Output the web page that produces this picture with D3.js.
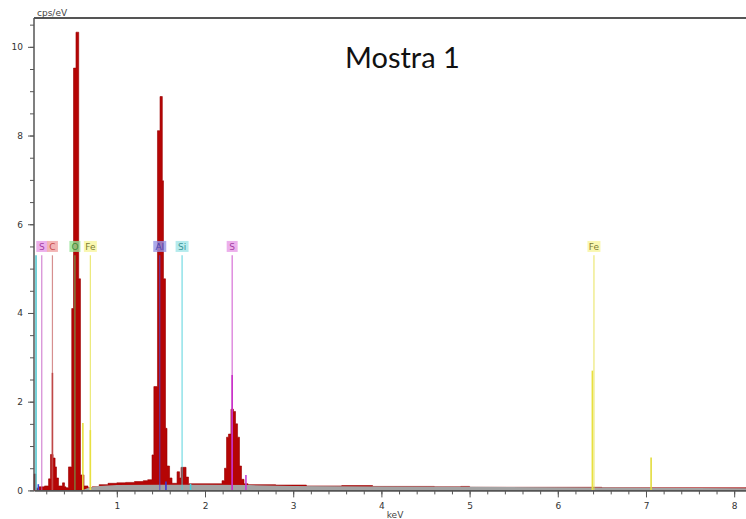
<!DOCTYPE html>
<html>
<head>
<meta charset="utf-8" />
<title>Mostra 1</title>
<script src="https://d3js.org/d3.v7.min.js"></script>
<style>
  body { margin: 0; background: #fff; }
  svg { display: block; }
  .tick text { font-family: "DejaVu Sans", sans-serif; font-size: 9px; fill: #333; }
</style>
</head>
<body>
<div id="chart"></div>
<script>
// spectrum (step start energy in keV, cps/eV)
var specE = [0.061, 0.083, 0.11, 0.18, 0.226, 0.248, 0.277, 0.300, 0.316, 0.339, 0.384, 0.407, 0.424,
  0.452, 0.489, 0.509, 0.537, 0.568, 0.588, 0.628, 0.673,
  0.72, 0.8, 0.9, 1.0, 1.1, 1.2, 1.3, 1.35,
  1.399, 1.420, 1.461, 1.490, 1.516, 1.529, 1.552, 1.569, 1.598, 1.626,
  1.683, 1.711, 1.728, 1.785, 1.813,
  2.193, 2.221, 2.244, 2.266, 2.294, 2.323, 2.346, 2.369, 2.391, 2.414, 2.442, 2.488,
  2.8, 3.15, 3.55, 3.9, 4.6, 4.9, 5.0, 6.5, 8.134];
var specCps = [0.37, 0.05, 0.08, 0.1, 0.26, 0.81, 0.73, 0.53, 0.28, 0.1, 0.17, 0.08, 0.06,
  0.53, 4.1, 9.52, 10.33, 4.77, 0.35, 0.1, 0.06,
  0.08, 0.13, 0.16, 0.17, 0.18, 0.2, 0.22, 0.24,
  0.8, 2.34, 8.11, 8.88, 6.98, 4.77, 1.4, 0.55, 0.28, 0.16,
  0.42, 0.28, 0.52, 0.3, 0.15,
  0.22, 0.5, 1.2, 1.27, 1.83, 1.78, 1.5, 1.2, 0.55, 0.25, 0.15, 0.13,
  0.12, 0.1, 0.11, 0.09, 0.08, 0.09, 0.07, 0.06, 0.05];

// background (bremsstrahlung) fit
var bgE = [0.60, 0.68, 0.8, 1.0, 1.5, 2.0, 2.5, 3.0, 4.0, 5.0, 6.0, 7.0, 8.134];
var bgCps = [0, 0.06, 0.1, 0.12, 0.13, 0.13, 0.12, 0.1, 0.09, 0.08, 0.07, 0.06, 0.05];

// element markers with labels
var elNames = ["S", "C", "O", "Fe", "Al", "Si", "S", "Fe"];
var elE = [0.149, 0.27, 0.525, 0.70, 1.487, 1.74, 2.308, 6.41];
var elBg = ["#e79be6", "#f0a3a3", "#94e294", "#f7f59c", "#9595e6", "#a3e6e8", "#e79be6", "#f7f59c"];
var elText = ["#9b2f9b", "#c03c3c", "#2e8a2e", "#6b6a1e", "#3838b0", "#2a8a8c", "#9b2f9b", "#6b6a1e"];
var elLine = ["#c45fc4", "#c86a6a", "#5cc25c", "#e6e04a", "#4a4ad8", "#45cdd8", "#c840c8", "#e6e04a"];

// extra marker lines (energy, height, colour)
var lineE = [0.084, 0.11, 0.27, 0.615, 0.70, 1.557, 1.836, 2.308, 2.464, 6.392, 7.058];
var lineH = [5.3, 0.14, 2.65, 1.52, 1.36, 0.2, 0.15, 2.6, 0.35, 2.7, 0.74];
var lineC = ["#55c8d0", "#3a4ad8", "#c04848", "#e8e040", "#e8e040", "#3a3ad8", "#45d0dc", "#c830c8", "#c040d8", "#e8e040", "#e2dc3c"];

var yMajor = [0, 2, 4, 6, 8, 10];
var xMajor = [1, 2, 3, 4, 5, 6, 7, 8];

var W = 746, H = 519;
var margin = {top: 18, right: 0, bottom: 28.6, left: 34};

var x = d3.scaleLinear().domain([0.061, 8.134]).range([margin.left, W - margin.right]);
var y = d3.scaleLinear().domain([0, 10.65]).range([H - margin.bottom, margin.top]);

var svg = d3.select("#chart").append("svg")
  .attr("width", W)
  .attr("height", H);

// spectrum
var spec = specE.map(function(e, i) { return [e, specCps[i]]; });
svg.append("path")
  .datum(spec)
  .attr("fill", "#b50505")
  .attr("stroke", "#9a0000")
  .attr("stroke-width", 0.6)
  .attr("d", d3.area()
    .curve(d3.curveStepAfter)
    .x(function(d) { return x(d[0]); })
    .y0(y(0))
    .y1(function(d) { return y(d[1]); }));

// background fit
var bg = bgE.map(function(e, i) { return [e, bgCps[i]]; });
svg.append("path")
  .datum(bg)
  .attr("fill", "#a3a3a3")
  .attr("d", d3.area()
    .x(function(d) { return x(d[0]); })
    .y0(y(0))
    .y1(function(d) { return y(d[1]); }));

// marker lines for the labelled elements
svg.append("g").selectAll("line")
  .data(elNames.map(function(n, i) { return {e: elE[i], c: elLine[i]}; }))
  .enter().append("line")
  .attr("x1", function(d) { return x(d.e); })
  .attr("x2", function(d) { return x(d.e); })
  .attr("y1", y(0))
  .attr("y2", y(5.3))
  .attr("stroke", function(d) { return d.c; })
  .attr("stroke-opacity", 0.75)
  .attr("stroke-width", 1.2);

svg.append("g").selectAll("line")
  .data(lineE.map(function(e, i) { return {e: e, h: lineH[i], c: lineC[i]}; }))
  .enter().append("line")
  .attr("x1", function(d) { return x(d.e); })
  .attr("x2", function(d) { return x(d.e); })
  .attr("y1", y(0))
  .attr("y2", function(d) { return y(d.h); })
  .attr("stroke", function(d) { return d.c; })
  .attr("stroke-width", 1.6);

// element labels, a little see-through so the tall peaks show through
var labelY = y(5.5);
var els = svg.append("g").selectAll("g")
  .data(elNames.map(function(n, i) { return {name: n, e: elE[i], bg: elBg[i], tc: elText[i]}; }))
  .enter().append("g");
els.append("rect")
  .attr("x", function(d) { return x(d.e) - (d.name.length > 1 ? 6.5 : 5.5); })
  .attr("y", labelY - 5.5)
  .attr("width", function(d) { return d.name.length > 1 ? 13 : 11; })
  .attr("height", 11)
  .attr("fill", function(d) { return d.bg; })
  .attr("fill-opacity", 0.8);
els.append("text")
  .attr("x", function(d) { return x(d.e); })
  .attr("y", labelY + 3.3)
  .attr("text-anchor", "middle")
  .style("font-family", "DejaVu Sans, sans-serif")
  .style("font-size", "9px")
  .attr("fill", function(d) { return d.tc; })
  .attr("fill-opacity", 0.9)
  .text(function(d) { return d.name; });

// axes
var yMinor = d3.range(0, 10.6, 0.5);
var xMinor = d3.range(0.2, 8.1, 0.2);

svg.append("g")
  .attr("transform", "translate(" + margin.left + ",0)")
  .call(d3.axisLeft(y).tickValues(yMinor).tickSize(4).tickSizeOuter(0).tickFormat(""))
  .call(function(g) { g.select(".domain").remove(); g.selectAll("line").attr("stroke", "#555"); });
svg.append("g")
  .attr("transform", "translate(" + margin.left + ",0)")
  .call(d3.axisLeft(y).tickValues(yMajor).tickSize(6).tickPadding(5).tickSizeOuter(0))
  .call(function(g) {
    g.select(".domain").attr("d", "M0," + y(0) + "V" + margin.top).attr("stroke", "#555").attr("stroke-width", 1.5);
    g.selectAll("line").attr("stroke", "#555");
  });

svg.append("g")
  .attr("transform", "translate(0," + y(0) + ")")
  .call(d3.axisBottom(x).tickValues(xMinor).tickSize(4).tickSizeOuter(0).tickFormat(""))
  .call(function(g) { g.select(".domain").remove(); g.selectAll("line").attr("stroke", "#555"); });
svg.append("g")
  .attr("transform", "translate(0," + y(0) + ")")
  .call(d3.axisBottom(x).tickValues(xMajor).tickSize(7).tickPadding(5).tickSizeOuter(0))
  .call(function(g) {
    g.select(".domain").attr("stroke", "#555").attr("stroke-width", 1.8);
    g.selectAll("line").attr("stroke", "#555");
  });

// top frame line
svg.append("line")
  .attr("x1", margin.left).attr("x2", W)
  .attr("y1", margin.top).attr("y2", margin.top)
  .attr("stroke", "#555").attr("stroke-width", 1.8);

// axis titles
svg.append("text")
  .attr("x", 37).attr("y", 16)
  .style("font-family", "DejaVu Sans, sans-serif")
  .style("font-size", "9px")
  .attr("fill", "#444")
  .text("cps/eV");
svg.append("text")
  .attr("x", 395).attr("y", 518)
  .attr("text-anchor", "middle")
  .style("font-family", "DejaVu Sans, sans-serif")
  .style("font-size", "9px")
  .attr("fill", "#444")
  .text("keV");

// title
svg.append("text")
  .attr("x", 345).attr("y", 68)
  .style("font-family", "Lato, sans-serif")
  .style("font-size", "29px")
  .attr("fill", "#111")
  .text("Mostra 1");
</script>
</body>
</html>
